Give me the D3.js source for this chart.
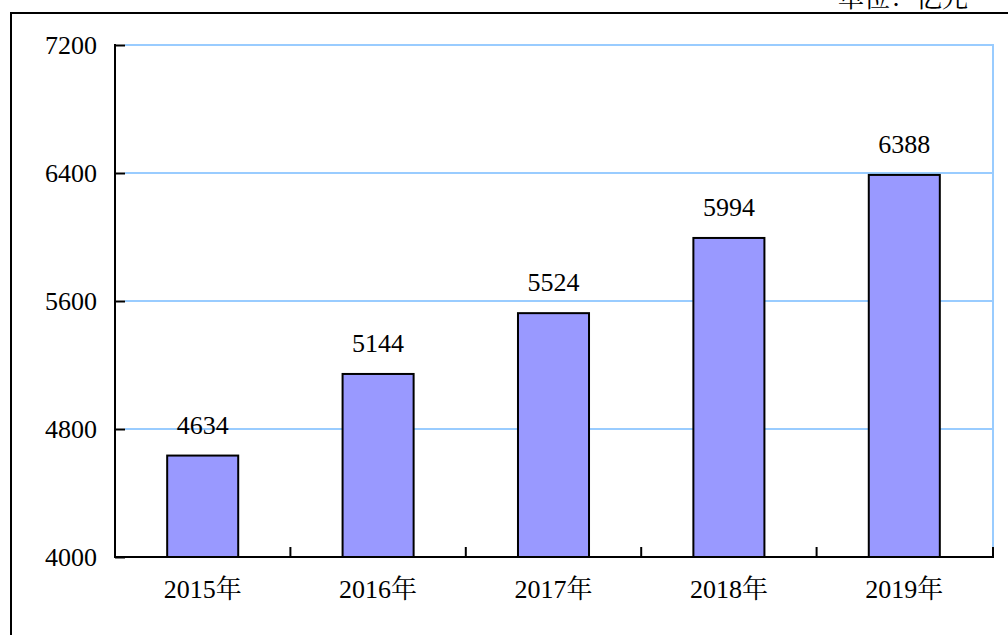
<!DOCTYPE html>
<html><head><meta charset="utf-8">
<script src="https://cdn.jsdelivr.net/npm/d3@7"></script>
<style>html,body{margin:0;padding:0;background:#fff;}svg{display:block;}</style>
</head><body>
<svg id="chart" width="1008" height="635"></svg>
<script>
const categories = ["2015年","2016年","2017年","2018年","2019年"];
const values = [4634, 5144, 5524, 5994, 6388];
const yTicks = [4000, 4800, 5600, 6400, 7200];
const unitLabel = "单位：亿元";

const FONT = '"Liberation Serif", "Noto Serif CJK SC", serif';
const svg = d3.select("#chart");
const m = {left:115, right:992, top:45, bottom:557};

const x = d3.scaleBand().domain(categories).range([m.left, m.right]).paddingInner(0).paddingOuter(0);
const y = d3.scaleLinear().domain([4000, 7200]).range([m.bottom, m.top]);

// outer frame
svg.append("rect").attr("x",11).attr("y",13).attr("width",1010).attr("height",640)
  .attr("fill","none").attr("stroke","#000").attr("stroke-width",2);

svg.append("text").attr("x",968).attr("y",7).attr("text-anchor","end")
  .style("font-family",'"Noto Serif CJK SC", serif').style("font-size","26px").attr("fill","#000").text(unitLabel);

// gridlines
svg.append("g").selectAll("line").data(yTicks.slice(1)).join("line")
  .attr("x1",m.left+10).attr("x2",m.right+1).attr("y1",d=>y(d)).attr("y2",d=>y(d))
  .attr("stroke","#99ccff").attr("stroke-width",2);
// right border
svg.append("line").attr("x1",m.right+1).attr("x2",m.right+1).attr("y1",m.top-1).attr("y2",m.bottom-10)
  .attr("stroke","#99ccff").attr("stroke-width",2);

// bars
const bw = x.bandwidth()*0.405;
svg.append("g").selectAll("rect").data(values).join("rect")
  .attr("x",(d,i)=>x(categories[i])+x.bandwidth()/2-bw/2)
  .attr("y",d=>y(d)).attr("width",bw).attr("height",d=>m.bottom-y(d))
  .attr("fill","#9999ff").attr("stroke","#000").attr("stroke-width",2);

// value labels
svg.append("g").selectAll("text").data(values).join("text")
  .attr("x",(d,i)=>x(categories[i])+x.bandwidth()/2)
  .attr("y",d=>y(d)-22).attr("text-anchor","middle")
  .style("font-family",FONT).style("font-size","26px").attr("fill","#000").text(d=>String(d));

// y axis
const yAxis = d3.axisRight(y).tickValues(yTicks).tickSize(10).tickFormat("");
const gy = svg.append("g").attr("transform",`translate(${m.left},0)`).call(yAxis);
gy.select(".domain").remove();
gy.selectAll(".tick line").attr("stroke","#000").attr("stroke-width",2);
svg.append("line").attr("x1",m.left).attr("x2",m.left).attr("y1",m.top-1).attr("y2",m.bottom+1)
  .attr("stroke","#000").attr("stroke-width",2);
svg.append("g").selectAll("text").data(yTicks).join("text")
  .attr("x",97).attr("y",d=>y(d)+9).attr("text-anchor","end")
  .style("font-family",FONT).style("font-size","26px").attr("fill","#000").text(d=>String(d));

// x axis
const bounds = categories.slice(1).map(c=>x(c)).concat([m.right+1]);
svg.append("g").selectAll("line").data(bounds).join("line")
  .attr("x1",d=>d).attr("x2",d=>d).attr("y1",m.bottom).attr("y2",m.bottom-10)
  .attr("stroke","#000").attr("stroke-width",2);
svg.append("line").attr("x1",m.left-1).attr("x2",m.right+2).attr("y1",m.bottom).attr("y2",m.bottom)
  .attr("stroke","#000").attr("stroke-width",2);
svg.append("g").selectAll("text").data(categories).join("text")
  .attr("x",d=>x(d)+x.bandwidth()/2).attr("y",598).attr("text-anchor","middle")
  .style("font-family",FONT).style("font-size","26px").attr("fill","#000").text(d=>d);
</script>
</body></html>
